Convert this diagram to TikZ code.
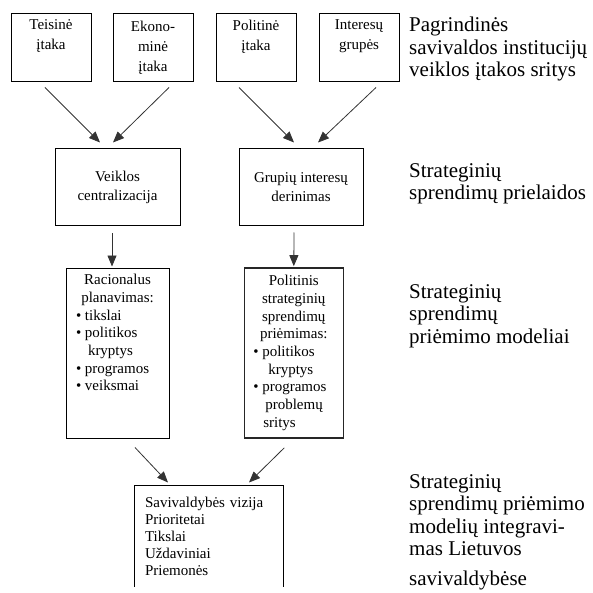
\documentclass[tikz,border=0pt]{standalone}
\usepackage{fontspec}
\setmainfont{Liberation Serif}
\usetikzlibrary{positioning, arrows.meta}

\begin{document}
\begin{tikzpicture}[
    x=1pt, y=1pt,
    box/.style={rectangle, draw=black, line width=1pt, align=center, inner sep=0pt},
    topbox/.style={box, minimum width=80pt, minimum height=68pt, font=\fontsize{15}{20}\selectfont},
    midbox/.style={box, minimum width=125pt, minimum height=77pt, font=\fontsize{15}{19}\selectfont},
    modbox/.style={box, minimum width=103pt, minimum height=170pt, font=\fontsize{15}{17.7}\selectfont},
    side/.style={anchor=west, align=left, inner sep=0pt, font=\fontsize{21}{22.5}\selectfont},
    arr/.style={-{Triangle[length=11pt, width=9pt]}, line width=0.8pt, draw=black!80}
]
\useasboundingbox (0,0) rectangle (592,-593);

% influence areas
\node[topbox] (teis) at (51,-48) {Teisinė\\ įtaka\\ \strut};
\node[topbox, right=21pt of teis] (ekon) {Ekono-\\ minė\\ įtaka};
\node[topbox, right=22pt of ekon] (polit) {Politinė\\ įtaka\\ \strut};
\node[topbox, right=22pt of polit] (inter) {Interesų\\ grupės\\ \strut};

% premises
\node[midbox, below=66pt of teis, xshift=66.5pt] (veik) {Veiklos\\ centralizacija};
\node[midbox, right=58pt of veik, minimum width=124pt] (grup) {Grupių interesų\\ derinimas};

% decision models
\node[modbox, below=41pt of veik] (rac) {Racionalus\\ planavimas:\\
    \makebox[83pt][l]{• tikslai}\\
    \makebox[83pt][l]{• politikos}\\
    \makebox[83pt][l]{\hspace*{12pt}kryptys}\\
    \makebox[83pt][l]{• programos}\\
    \makebox[83pt][l]{• veiksmai}\\ \strut\\ \strut};
\node[modbox, right=74pt of rac, minimum width=99pt, line width=1.6pt, draw=black!85] (pol) {Politinis\\ strateginių\\ sprendimų\\ priėmimas:\\
    \makebox[81pt][l]{• politikos}\\
    \makebox[81pt][l]{\hspace*{15pt}kryptys}\\
    \makebox[81pt][l]{• programos}\\
    \makebox[81pt][l]{\hspace*{12pt}problemų}\\
    \makebox[81pt][l]{\hspace*{10pt}sritys}};

% integration (open at the bottom)
\node[box, draw=none, below=47pt of rac, xshift=91.5pt, minimum width=148pt, minimum height=100pt,
    text width=128pt, align=left, font=\fontsize{15}{17}\selectfont] (bot) {Savivaldybės vizija\\ Prioritetai\\ Tikslai\\ Uždaviniai\\ Priemonės};
\draw[line width=1pt] (bot.south west) -- (bot.north west) -- (bot.north east) -- (bot.south east);

% Arrows
\draw[arr] ([xshift=-6pt, yshift=-5pt]teis.south) -- ([xshift=-17.5pt, yshift=6pt]veik.north);
\draw[arr] ([xshift=16pt, yshift=-5pt]ekon.south) -- ([xshift=-4.5pt, yshift=6pt]veik.north);
\draw[arr] ([xshift=-17pt, yshift=-5pt]polit.south) -- ([xshift=-7pt, yshift=6pt]grup.north);
\draw[arr] ([xshift=17pt, yshift=-5pt]inter.south) -- ([xshift=17pt, yshift=6pt]grup.north);
\draw[arr] ([xshift=-5.5pt, yshift=-7pt]veik.south) -- ([xshift=-5.5pt, yshift=1pt]rac.north);
\draw[arr] ([xshift=-7pt, yshift=-6pt]grup.south) -- ([yshift=1pt]pol.north);
\draw[arr] ([xshift=17.5pt, yshift=-9pt]rac.south) -- ([xshift=-41pt, yshift=3pt]bot.north);
\draw[arr] ([xshift=-9.5pt, yshift=-9pt]pol.south) -- ([xshift=40pt, yshift=3pt]bot.north);

% Labels
\node[side] (lab1) at (409,-49) {Pagrindinės\\ savivaldos institucijų\\ veiklos įtakos sritys};
\node[side] (lab2) at (409,-184) {Strateginių\\ sprendimų prielaidos};
\node[side] (lab3) at (409,-316) {Strateginių\\ sprendimų\\ priėmimo modeliai};
\node[side] (lab4) at (409,-532) {Strateginių\\ sprendimų priėmimo\\ modelių integravi-\\ mas Lietuvos\\[7pt] savivaldybėse};
\end{tikzpicture}
\end{document}
